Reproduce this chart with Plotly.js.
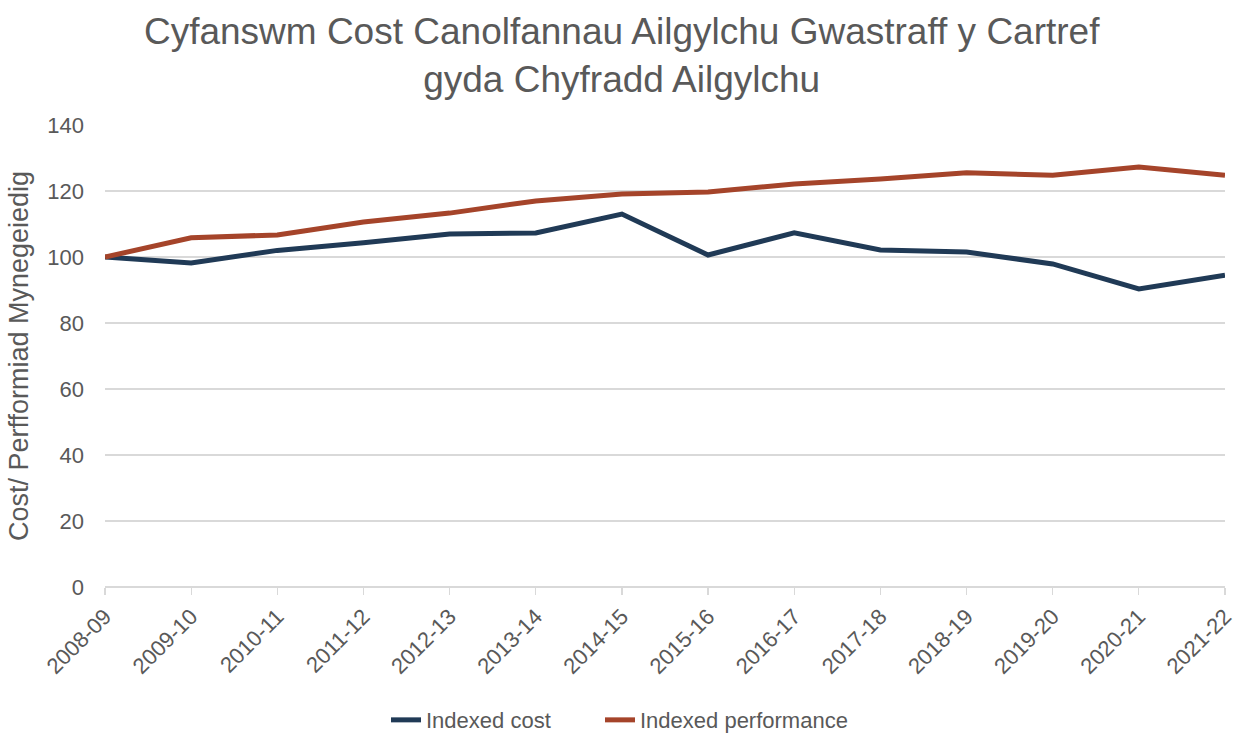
<!DOCTYPE html>
<html><head><meta charset="utf-8">
<script src="https://cdn.plot.ly/plotly-3.0.1.min.js"></script>
<style>html,body{margin:0;padding:0;background:#fff}#chart{width:1236px;height:734px}</style>
</head><body><div id="chart"></div>
<script>
const years = ["2008-09","2009-10","2010-11","2011-12","2012-13","2013-14","2014-15","2015-16","2016-17","2017-18","2018-19","2019-20","2020-21","2021-22"];
const indexedCost = [100, 98.2, 102, 104.3, 107, 107.3, 113, 100.6, 107.3, 102.1, 101.5, 97.9, 90.3, 94.5];
const indexedPerformance = [100, 105.8, 106.7, 110.6, 113.3, 117, 119.1, 119.7, 122.1, 123.6, 125.5, 124.8, 127.3, 124.8];
const idx = years.map((_, i) => i);

const traces = [
  {x: idx, y: indexedCost, name: "Indexed cost", type: "scatter", mode: "lines",
   line: {color: "#203A56", width: 5}, legend: "legend"},
  {x: idx, y: indexedPerformance, name: "Indexed performance", type: "scatter", mode: "lines",
   line: {color: "#A5442A", width: 5}, legend: "legend2"}
];
const font = "Liberation Sans, Arial, sans-serif";
const legendBase = {orientation: "h", xref: "container", yref: "container", xanchor: "left",
                    y: 0.019, yanchor: "middle", font: {size: 22, color: "#595959"}};
const layout = {
  width: 1236, height: 734,
  margin: {l: 105, r: 11, t: 125, b: 147, autoexpand: false},
  paper_bgcolor: "#fff", plot_bgcolor: "#fff",
  font: {family: font, color: "#595959", size: 22},
  title: {text: "Cyfanswm Cost Canolfannau Ailgylchu Gwastraff y Cartref<br>gyda Chyfradd Ailgylchu",
          font: {family: font, size: 37, color: "#595959"}, xref: "container", yref: "container",
          x: 0.503, xanchor: "center", y: 0.94, yanchor: "top"},
  xaxis: {range: [0, 13], tickvals: idx, ticktext: years, tickangle: -45,
          showgrid: false, zeroline: false, showline: false, automargin: false,
          ticks: "outside", ticklen: 7, tickcolor: "#d9d9d9", tickwidth: 1.3,
          ticklabeloverflow: "allow",
          tickfont: {size: 22, color: "#595959"}, fixedrange: true},
  yaxis: {range: [0, 140], dtick: 20, showgrid: true, gridcolor: "#d9d9d9", gridwidth: 1.3,
          zeroline: true, zerolinecolor: "#d9d9d9", zerolinewidth: 1.3, showline: false, automargin: false,
          tickfont: {size: 22, color: "#595959"}, ticklen: 0, ticks: "", ticklabelstandoff: 20,
          title: {text: "Cost/ Perfformiad Mynegeiedig", font: {size: 27, color: "#595959"}, standoff: 10}},
  legend: Object.assign({}, legendBase, {x: 386 / 1236}),
  legend2: Object.assign({}, legendBase, {x: 600 / 1236}),
  showlegend: true
};
Plotly.newPlot("chart", traces, layout, {displayModeBar: false, staticPlot: true});
</script></body></html>
